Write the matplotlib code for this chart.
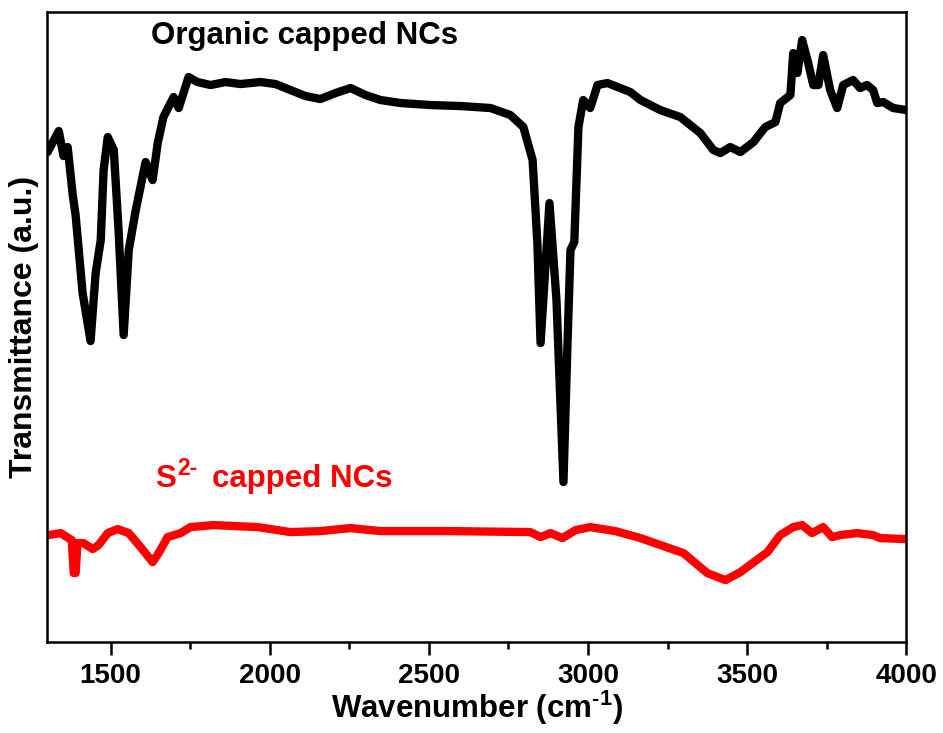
import matplotlib
matplotlib.use("Agg")
import matplotlib.pyplot as plt
from matplotlib.ticker import MultipleLocator

plt.rcParams['font.family'] = ['Liberation Sans', 'DejaVu Sans']
plt.rcParams['font.weight'] = 'bold'
plt.rcParams['mathtext.fontset'] = 'custom'
plt.rcParams['mathtext.rm'] = 'Liberation Sans:bold'
plt.rcParams['mathtext.bf'] = 'Liberation Sans:bold'
plt.rcParams['mathtext.it'] = 'Liberation Sans:bold'

# organic capped NCs (black), wavenumber in cm-1, transmittance in a.u.
wn_org = [1302, 1337, 1352, 1365, 1381, 1390, 1412, 1437, 1453, 1469, 1478, 1491,
          1510, 1525, 1541, 1557, 1579, 1610, 1632, 1648, 1666, 1698, 1714, 1745,
          1773, 1814, 1861, 1908, 1971, 2018, 2065, 2112, 2159, 2207, 2254, 2301,
          2348, 2411, 2505, 2599, 2694, 2756, 2797, 2826, 2841, 2851, 2879, 2901,
          2923, 2935, 2945, 2957, 2970, 2985, 3007, 3030, 3061, 3133, 3165, 3227,
          3290, 3353, 3394, 3416, 3447, 3479, 3520, 3557, 3589, 3604, 3636, 3645,
          3658, 3673, 3692, 3708, 3724, 3739, 3761, 3783, 3802, 3833, 3855, 3877,
          3896, 3909, 3928, 3959, 4000]
t_org = [490, 511, 486, 495, 447, 427, 349, 301, 369, 402, 472, 505,
         492, 412, 307, 392, 432, 480, 462, 499, 525, 545, 534, 565,
         560, 557, 560, 558, 560, 558, 552, 546, 543, 549, 554, 547,
         542, 539, 537, 536, 534, 527, 515, 482, 399, 299, 439, 342,
         160, 292, 392, 400, 515, 542, 534, 557, 559, 550, 542, 532,
         525, 509, 492, 489, 495, 490, 500, 515, 520, 539, 547, 589,
         569, 602, 579, 557, 557, 587, 552, 534, 557, 562, 554, 557,
         552, 539, 540, 534, 532]

# S2- capped NCs (red)
wn_s = [1305, 1343, 1368, 1378, 1384, 1390, 1396, 1415, 1444, 1462, 1491, 1522,
        1557, 1594, 1632, 1651, 1679, 1720, 1751, 1823, 1962, 2065, 2159, 2254,
        2348, 2568, 2819, 2851, 2882, 2920, 2961, 3007, 3086, 3165, 3300, 3375,
        3432, 3479, 3564, 3604, 3645, 3673, 3704, 3739, 3767, 3792, 3846, 3896,
        3918, 4000]
t_s = [107, 109, 104, 102, 69, 69, 99, 99, 93, 97, 109, 113,
       109, 95, 80, 89, 105, 109, 115, 117, 115, 110, 111, 114,
       111, 111, 110, 105, 109, 104, 112, 115, 111, 104, 89, 69,
       62, 70, 90, 107, 115, 117, 109, 115, 105, 107, 109, 107,
       104, 103]

fig = plt.figure(figsize=(9.43, 7.33), dpi=100)
ax = fig.add_axes([0.0498, 0.124, 0.9112, 0.8596])

ax.plot(wn_org, t_org, color='black', lw=6, solid_joinstyle='round', solid_capstyle='round')
ax.plot(wn_s, t_s, color='red', lw=6, solid_joinstyle='round', solid_capstyle='round')

ax.text(1626, 598, 'Organic capped NCs', fontsize=22.5, fontweight='bold', color='black')

# S2- label built from pieces so the superscript is as big as in the original
ax.text(1641, 155, 'S', fontsize=22.5, fontweight='bold', color='red')
ax.annotate('2-', xy=(1641, 155), xytext=(22, 12), textcoords='offset pixels',
            fontsize=16.5, fontweight='bold', color='red')
ax.annotate('capped NCs', xy=(1641, 155), xytext=(57, 0), textcoords='offset pixels',
            fontsize=22.5, fontweight='bold', color='red')

ax.set_xlim(1300, 4000)
ax.set_ylim(0, 630)
ax.xaxis.set_major_locator(MultipleLocator(500))
ax.xaxis.set_minor_locator(MultipleLocator(250))
ax.tick_params(axis='x', which='major', direction='out', length=9, width=1.8, labelsize=20, pad=6)
ax.tick_params(axis='x', which='minor', direction='out', length=5, width=1.8)
ax.set_yticks([])
for s in ax.spines.values():
    s.set_linewidth(1.8)

ax.set_xlabel(r'Wavenumber (cm$^{\mathbf{\text{-1}}}$)', fontsize=22.5, fontweight='bold', labelpad=0)
ax.set_ylabel('Transmittance (a.u.)', fontsize=23, fontweight='bold', labelpad=6)

fig.savefig('out.png', dpi=100)
